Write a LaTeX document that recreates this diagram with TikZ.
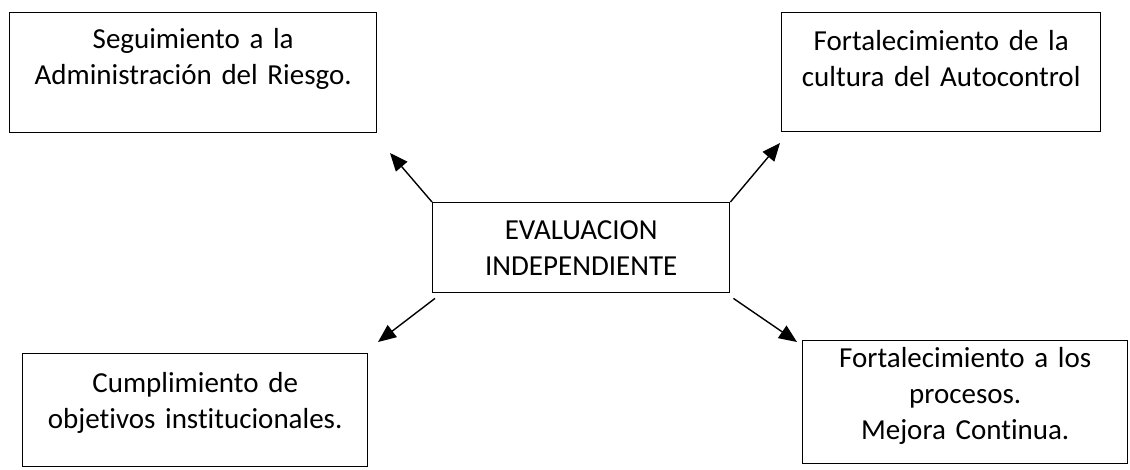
\documentclass[tikz,border=0pt]{standalone}
\usepackage{fontspec}
\setmainfont[Ligatures=NoCommon]{Carlito}
\usetikzlibrary{arrows.meta}

\begin{document}
\begin{tikzpicture}[x=1pt,y=-1pt,>={Triangle[length=18pt,width=15pt]}]

  \tikzstyle{caja}=[draw,line width=1.4pt,anchor=north west,inner sep=0pt,
                    align=center,font=\fontsize{29}{36}\selectfont]
  \tikzstyle{flecha}=[->,line width=1.4pt]

  \useasboundingbox (0,0) rectangle (1130,470);

  % Cajas
  \node [caja,text width=367pt,text height=36pt,text depth=84pt] (riesgo) at (9,12)
    {Seguimiento a la\\Administración del Riesgo.};
  \node [caja,text width=319pt,text height=38pt,text depth=81pt] (autocontrol) at (781,12)
    {Fortalecimiento de la\\cultura del Autocontrol};
  \node [caja,text width=297pt,text height=37pt,text depth=53pt] (evaluacion) at (432,202)
    {EVALUACION\\INDEPENDIENTE};
  \node [caja,text width=345pt,text height=39pt,text depth=74pt] (objetivos) at (22,353)
    {Cumplimiento de\\objetivos institucionales.};
  \node [caja,text width=325pt,text height=27pt,text depth=96pt] (procesos) at (802,340)
    {Fortalecimiento a los\\procesos.\\Mejora Continua.};

  % Puntas de las flechas
  \coordinate (p1) at (390,153);
  \coordinate (p2) at (780,143);
  \coordinate (p3) at (378,342);
  \coordinate (p4) at (797,342);

  \draw [flecha] (evaluacion.north west) -- (p1);
  \draw [flecha] (evaluacion.north east) -- (p2);
  \draw [flecha] ([shift={(3,5)}]evaluacion.south west) -- (p3);
  \draw [flecha] ([shift={(3,5)}]evaluacion.south east) -- (p4);
\end{tikzpicture}
\end{document}
